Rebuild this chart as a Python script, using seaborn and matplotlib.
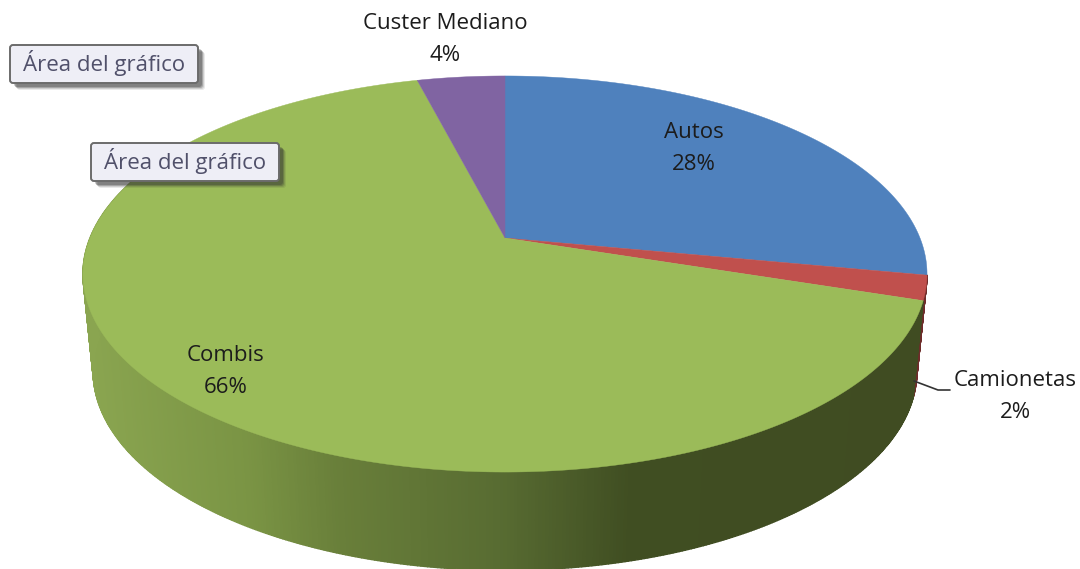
# plot.py
import numpy as np
import matplotlib
matplotlib.use("Agg")
import matplotlib.pyplot as plt
from matplotlib.collections import PolyCollection
from matplotlib.patches import FancyBboxPatch
import seaborn as sns

categories = ["Autos", "Camionetas", "Combis", "Custer Mediano"]
shares = [28, 2, 66, 4]
callout_text = "Área del gráfico"

sns.set_theme(style="white")
plt.rcParams['font.family'] = ['Open Sans', 'DejaVu Sans']

top_colors = sns.color_palette(["#4f81bd", "#c0504d", "#9bbb59", "#8064a2"])
wall_red = "#6e2c2a"
K = -0.1818


def project(theta, apex_y, bx, by):
    """Circle angle (clockwise from 12 o'clock) to picture position"""
    s, t = np.sin(theta), -np.cos(theta)
    d = 1 + K * t
    return 505 + bx * s / d, apex_y + by * t / d


def top(theta):
    return project(theta, 238, 415, 191.5)


def bottom(theta):
    return project(theta, 335, 405, 192.5)


def wall_color(x):
    r = np.interp(x, [90, 250, 340, 500, 630, 920], [138, 122, 105, 88, 64, 64])
    g = np.interp(x, [90, 250, 340, 500, 630, 920], [165, 148, 127, 108, 78, 76])
    b = np.interp(x, [90, 250, 340, 500, 630, 920], [80, 68, 58, 50, 34, 34])
    return (r / 255, g / 255, b / 255)


fig = plt.figure(figsize=(10.8, 5.69), dpi=100)
ax = fig.add_axes([0, 0, 1, 1])
ax.set_xlim(0, 1080)
ax.set_ylim(569, 0)
ax.axis('off')

edges = np.cumsum([0] + shares) / sum(shares) * 2 * np.pi
starts = edges[:-1]
ends = edges[1:]

# lateral wall, built as thin strips
ts = np.linspace(ends[0], np.radians(300), 500)
quads, cols = [], []
for a, b in zip(ts[:-1], ts[1:]):
    xa, ya = top(a)
    xb, yb = top(b)
    xc, yc = bottom(b)
    xd, yd = bottom(a)
    quads.append([(xa, ya), (xb, yb), (xc, yc), (xd, yd)])
    if b <= ends[1]:
        cols.append(wall_red)
    else:
        cols.append(wall_color((xa + xd) / 2))
ax.add_collection(PolyCollection(quads, facecolors=cols, edgecolors=cols, linewidths=1.0, zorder=1))

# top face
for s, e, c in zip(starts, ends, top_colors):
    th = np.linspace(s, e, 300)
    x, y = top(th)
    ax.fill(np.r_[505, x], np.r_[238, y], color=c, lw=0.3, zorder=2)

# data labels
label_pos = [(694, 132), (1015, 380), (226, 355), (445, 23)]
for name, v, (lx, ly) in zip(categories, shares, label_pos):
    ax.text(lx, ly, name, ha='center', va='center', fontsize=16, color='#1c1c1c', zorder=5)
    ax.text(lx, ly + 32, f"{v}%", ha='center', va='center', fontsize=16, color='#1c1c1c', zorder=5)

ax.plot([914, 938, 950], [381, 390, 390], color='#333333', lw=1.2, zorder=4)

# tooltips left over from the screenshot
for bx, by in [(10, 45), (91, 143)]:
    w, h = 188, 38
    for off, al in [(7, 0.10), (6, 0.15), (5, 0.25), (4, 0.3)]:
        ax.add_patch(FancyBboxPatch((bx + off, by + off), w, h, boxstyle="round,pad=0,rounding_size=3",
                                    fc='#303030', ec='none', alpha=al, zorder=6))
    ax.add_patch(FancyBboxPatch((bx, by), w, h, boxstyle="round,pad=0,rounding_size=3",
                                fc='#eeeef6', ec='#6b6b6b', lw=1.4, zorder=7))
    ax.text(bx + w / 2, by + h / 2 - 1, callout_text, ha='center', va='center', fontsize=16,
            color='#50506a', zorder=8)

fig.savefig("out.png", dpi=100, facecolor='white')
